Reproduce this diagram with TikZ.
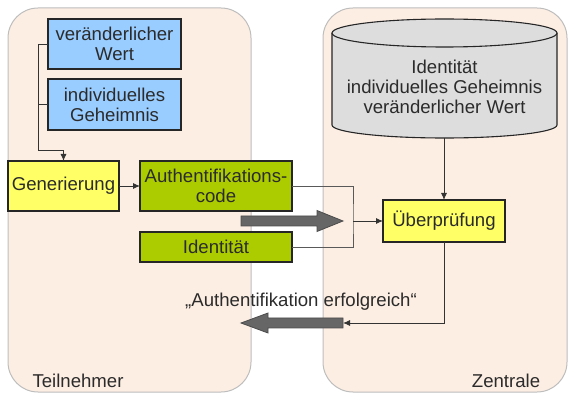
\documentclass[tikz,border=0pt]{standalone}
\usepackage{fontspec}
\setmainfont{Liberation Sans}
\usetikzlibrary{arrows.meta}
\definecolor{bgpeach}{HTML}{FDEEE3}
\definecolor{bgline}{HTML}{BDBDBD}
\definecolor{boxblue}{HTML}{99CCFF}
\definecolor{boxyellow}{HTML}{FFFF66}
\definecolor{boxgreen}{HTML}{ADCC00}
\definecolor{cylfill}{HTML}{DDDDDD}
\definecolor{fatgray}{HTML}{666666}
\definecolor{txt}{HTML}{2B2B2B}
\begin{document}
\begin{tikzpicture}[x=1pt,y=1pt,
  font=\fontsize{18.6}{20}\selectfont, text=txt,
  area/.style={draw=bgline, fill=bgpeach, rounded corners=30pt, line width=1pt, inner sep=0pt, outer sep=0pt},
  box/.style={draw=black!85, line width=1.1pt, align=center, inner sep=0pt, outer sep=0pt},
  conn/.style={draw=black!80, line width=0.9pt},
  tip/.style={-{Latex[length=7pt,width=6pt]}},
  fat/.style={fill=fatgray, draw=black!70, line width=0.8pt}]
\useasboundingbox (0,0) rectangle (568,394);

% background areas
\node[area, minimum width=243, minimum height=384] (teil) at (129.5,194) {};
\node[area, minimum width=244, minimum height=384] (zent) at (445,194) {};

% cylinder (database)
\fill[cylfill] (332,361) -- (332,269) arc[start angle=180,end angle=360,x radius=112.5,y radius=13] -- (557,361) -- cycle;
\draw[black!85, line width=1.1pt] (332,361) -- (332,269) arc[start angle=180,end angle=360,x radius=112.5,y radius=13] -- (557,361);
\draw[black!85, line width=1.1pt, fill=cylfill] (444.5,361) ellipse[x radius=112.5, y radius=14];
\node[align=center, inner sep=0pt] (db) at (444.5,307) {Identität\\individuelles Geheimnis\\veränderlicher Wert};
\coordinate (dbbot) at (444,256);

% boxes
\node[box, fill=boxblue, minimum width=133, minimum height=50] (wert) at (114.5,350) {veränderlicher\\Wert};
\node[box, fill=boxblue, minimum width=133, minimum height=51] (geheim) at (114.5,289.5) {individuelles\\Geheimnis};
\node[box, fill=boxyellow, minimum width=111, minimum height=50] (gen) at (63.5,208) {Generierung};
\node[box, fill=boxgreen, minimum width=152, minimum height=50] (auth) at (216,208) {Authentifikations-\\code};
\node[box, fill=boxgreen, minimum width=152, minimum height=30] (ident) at (216,147) {Identität};
\node[box, fill=boxyellow, minimum width=122, minimum height=42] (pruef) at (444,173) {Überprüfung};

% connectors left
\coordinate (j1) at (38,244);
\draw[conn, tip] (wert.west) -| (j1) -| (gen.north);
\draw[conn] (geheim.west) -- (geheim.west -| j1);
\draw[conn, tip] (gen.east) -- (auth.west);

% bracket to checking
\coordinate (m) at (353,173);
\draw[conn, black!65] (auth.east) -| (m) |- (ident.east);
\draw[conn, tip] (m) -- (pruef.west);

% fat arrow to the right
\draw[fat] (241,178) -- (317,178) -- (317,183.5) -- (343,173) -- (317,162.5) -- (317,168) -- (241,168) -- cycle;
\coordinate (fa1tip) at (343,173);

% database to check
\draw[conn, tip] (dbbot) -- (pruef.north);

% result arrow
\draw[fat] (343,76) -- (268,76) -- (268,81) -- (241,71) -- (268,61) -- (268,66) -- (343,66) -- cycle;
\coordinate (fa2tail) at (343,71);
\draw[conn, tip] (pruef.south) |- (fa2tail);
\node[inner sep=0pt] (ok) at (301,92) {„Authentifikation erfolgreich“};

% labels
\node[inner sep=0pt] (lteil) at (78,13) {Teilnehmer};
\node[inner sep=0pt] (lzent) at (506,13) {Zentrale};
\end{tikzpicture}
\end{document}
